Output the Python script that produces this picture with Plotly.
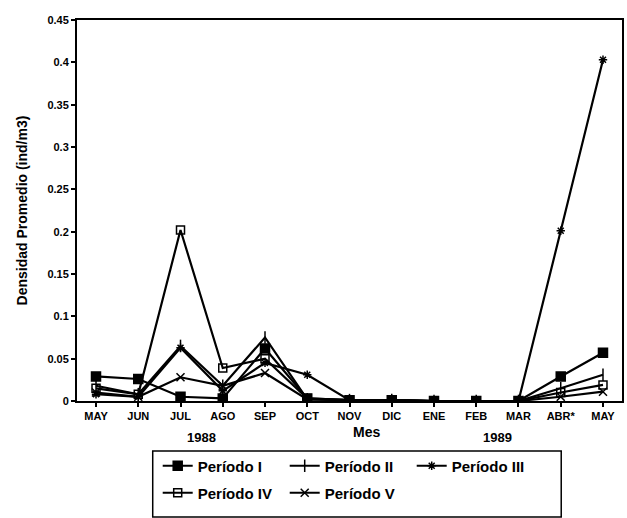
import plotly.graph_objects as go

# Monthly categories (May 1988 - May 1989)
meses = ["MAY", "JUN", "JUL", "AGO", "SEP", "OCT", "NOV", "DIC", "ENE", "FEB", "MAR", "ABR*", "MAY"]

# Average density (ind/m3) per sampling period
periodo_1 = [0.029, 0.026, 0.005, 0.003, 0.062, 0.003, 0.001, 0.001, 0.0, 0.0, 0.0, 0.029, 0.057]
periodo_2 = [0.018, 0.008, 0.065, 0.018, 0.075, 0.002, 0.001, 0.001, 0.0, 0.0, 0.0, 0.015, 0.031]
periodo_3 = [0.008, 0.005, 0.063, 0.012, 0.045, 0.031, 0.001, 0.001, 0.0, 0.0, 0.0, 0.201, 0.403]
periodo_4 = [0.015, 0.008, 0.202, 0.039, 0.05, 0.003, 0.001, 0.001, 0.0, 0.0, 0.0, 0.01, 0.019]
periodo_5 = [0.01, 0.005, 0.028, 0.018, 0.033, 0.002, 0.001, 0.001, 0.0, 0.0, 0.0, 0.005, 0.011]

nombres = ["Período I", "Período II", "Período III", "Período IV", "Período V"]
series = [periodo_1, periodo_2, periodo_3, periodo_4, periodo_5]
simbolos = ["square", "line-ns-open", "asterisk-open", "square-open", "x-thin-open"]
tamanos = [9, 9, 7, 8, 8]
leyendas = ["legend", "legend", "legend", "legend2", "legend2"]

y_ticks = [0, 0.05, 0.1, 0.15, 0.2, 0.25, 0.3, 0.35, 0.4, 0.45]
y_labels = ["0", "0.05", "0.1", "0.15", "0.2", "0.25", "0.3", "0.35", "0.4", "0.45"]

x_idx = list(range(len(meses)))

fig = go.Figure()
for nombre, vals, sim, tam, ley in zip(nombres, series, simbolos, tamanos, leyendas):
    fig.add_trace(go.Scatter(
        x=x_idx, y=vals, name=nombre, mode="lines+markers", legend=ley,
        line=dict(color="black", width=2.2),
        marker=dict(symbol=sim, size=tam, color="black",
                    line=dict(color="black", width=1.5)),
    ))

font_main = "Liberation Sans, Arial, sans-serif"
PLOT_L, PLOT_R, PLOT_T, PLOT_B = 77, 624, 20, 401
PW, PH = PLOT_R - PLOT_L, PLOT_B - PLOT_T


def px_x(x):
    return (x - PLOT_L) / PW


def px_y(y):
    return (PLOT_B - y) / PH


legend_style = dict(
    orientation="h", xanchor="left", yanchor="middle",
    font=dict(size=15, family=font_main, color="black", weight="bold"),
    bgcolor="rgba(0,0,0,0)", borderwidth=0, itemwidth=30,
    entrywidth=82, entrywidthmode="pixels",
)

fig.update_layout(
    width=627, height=518,
    margin=dict(l=PLOT_L, r=627 - PLOT_R, t=PLOT_T, b=518 - PLOT_B),
    plot_bgcolor="white", paper_bgcolor="white",
    font=dict(family=font_main, color="black"),
    showlegend=True,
    legend=dict(x=px_x(158), y=px_y(466), **legend_style),
    legend2=dict(x=px_x(158), y=px_y(493), **legend_style),
    xaxis=dict(
        range=[-0.45, 12.45],
        tickvals=x_idx, ticktext=meses,
        ticks="outside", ticklen=4, tickwidth=1.5, tickcolor="black",
        showline=True, linecolor="black", linewidth=2, mirror=True,
        showgrid=False, zeroline=False,
        tickfont=dict(size=11, family=font_main, color="black", weight="bold"),
    ),
    yaxis=dict(
        range=[0, 0.45],
        tickvals=y_ticks, ticktext=y_labels,
        ticks="outside", ticklen=4, tickwidth=1.5, tickcolor="black",
        showline=True, linecolor="black", linewidth=2, mirror=True,
        showgrid=False, zeroline=False,
        tickfont=dict(size=11, family=font_main, color="black", weight="bold"),
        title=dict(text="Densidad Promedio (ind/m3)", standoff=16,
                   font=dict(size=14, family=font_main, color="black", weight="bold")),
    ),
    annotations=[
        dict(x=2.5, y=px_y(437), xref="x", yref="paper", yanchor="middle",
             text="<b>1988</b>", showarrow=False, font=dict(size=13, family=font_main)),
        dict(x=6.4, y=px_y(432), xref="x", yref="paper", yanchor="middle",
             text="<b>Mes</b>", showarrow=False, font=dict(size=14, family=font_main)),
        dict(x=9.5, y=px_y(437), xref="x", yref="paper", yanchor="middle",
             text="<b>1989</b>", showarrow=False, font=dict(size=13, family=font_main)),
    ],
    shapes=[
        dict(type="rect", xref="paper", yref="paper",
             x0=px_x(153), x1=px_x(563), y0=px_y(517), y1=px_y(451),
             line=dict(color="black", width=1.5)),
    ],
)

fig.write_html("out.html")
